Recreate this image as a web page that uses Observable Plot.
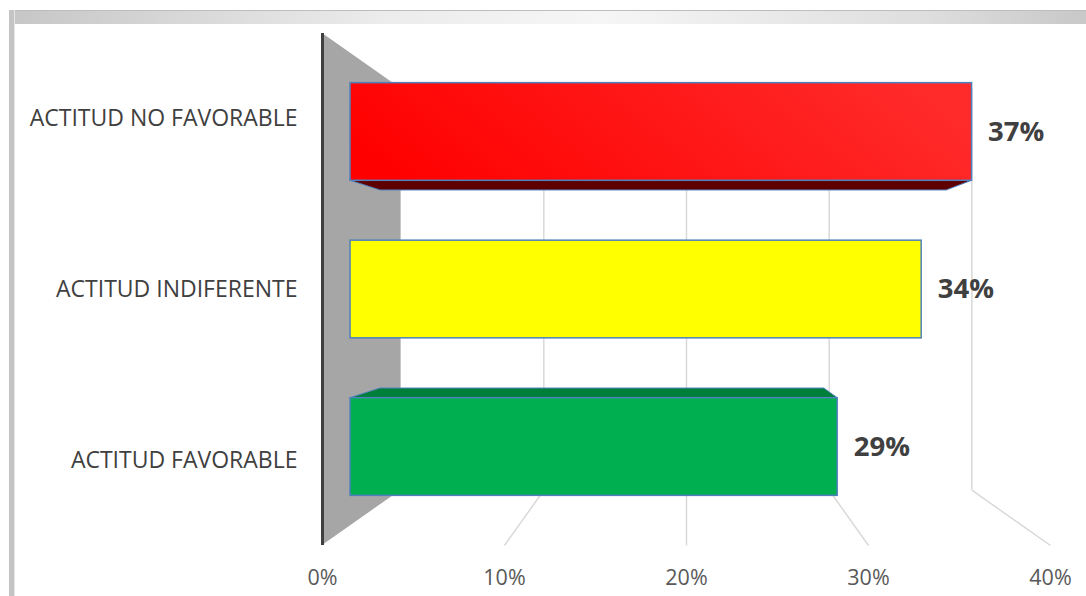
<!DOCTYPE html>
<html>
<head>
<meta charset="utf-8">
<script src="https://cdn.jsdelivr.net/npm/d3@7"></script>
<script src="https://cdn.jsdelivr.net/npm/@observablehq/plot@0.6"></script>
<style>
  html, body { margin: 0; padding: 0; background: #fff; width: 1086px; height: 596px; overflow: hidden; }
  #frameTop { position: absolute; left: 9px; top: 10px; width: 1077px; height: 14px;
    background: linear-gradient(to right, #c6c6c6 0%, #ececec 35%, #f6f6f6 55%, #dedede 85%, #c8c8c8 100%);
    border-top: 1px solid #bdbdbd; box-sizing: border-box; }
  #frameLeft { position: absolute; left: 9px; top: 10px; width: 6px; height: 586px; background: #c4c4c4; border-right: 1px solid #e6e6e6; box-sizing: border-box; }
  #chart { position: absolute; left: 0; top: 0; }
</style>
</head>
<body>
<div id="frameTop"></div>
<div id="frameLeft"></div>
<div id="chart"></div>
<script>
// ---- data ----
const categories = ["ACTITUD FAVORABLE", "ACTITUD INDIFERENTE", "ACTITUD NO FAVORABLE"];
const values = [0.29, 0.34, 0.37];
const valueLabels = ["29%", "34%", "37%"];
const frontFills = ["#00b050", "#ffff00", "url(#redGrad)"];
const sideFills = ["#007f3b", "#b5b500", "#5e0000"];
const ticks = [0, 0.1, 0.2, 0.3, 0.4];
const tickLabels = ["0%", "10%", "20%", "30%", "40%"];

// ---- 3D perspective helpers (depth factors) ----
const F_FRONT = 1, F_BACK = 0.784, BAR_FRONT = 0.923, BAR_BACK = 0.841;
const CX = 0.2, CY = 1.5, V0 = 0, V1 = 3;
const px = (p, f) => CX + (p - CX) * f;
const pv = (v, f) => CY + (v - CY) * f;
const BAR_LO = 0.19, BAR_HI = 0.81;

const bars = categories.map((c, i) => ({i, c, v: values[i], fill: frontFills[i], side: sideFills[i]}));

// visible horizontal faces (top face when below eye level, bottom face when above)
const faces = [];
bars.forEach(b => {
  let vEdge = null;
  if (b.i + BAR_HI < CY) vEdge = b.i + BAR_HI;
  else if (b.i + BAR_LO > CY) vEdge = b.i + BAR_LO;
  if (vEdge === null) return;
  faces.push({i: b.i, fill: b.side, y: pv(vEdge, BAR_FRONT), x1: px(0, BAR_FRONT), x2: px(b.v, BAR_FRONT)});
  faces.push({i: b.i, fill: b.side, y: pv(vEdge, BAR_BACK), x1: px(0, BAR_BACK), x2: px(b.v, BAR_BACK)});
});

const wall = [
  {x: px(0, F_FRONT), y1: pv(V0, F_FRONT), y2: pv(V1, F_FRONT)},
  {x: px(0, F_BACK), y1: pv(V0, F_BACK), y2: pv(V1, F_BACK)}
];

const defs = () => {
  const d = d3.create("svg:defs");
  const g = d.append("linearGradient").attr("id", "redGrad").attr("x1", "0").attr("y1", "0.6").attr("x2", "1").attr("y2", "0.4");
  g.append("stop").attr("offset", "0%").attr("stop-color", "#ff0000");
  g.append("stop").attr("offset", "100%").attr("stop-color", "#ff2b2b");
  return d.node();
};

const font = "'Open Sans', sans-serif";

const chart = Plot.plot({
  width: 1086,
  height: 596,
  margin: 0,
  style: {fontFamily: font, background: "transparent", overflow: "visible"},
  x: {domain: [0, 0.4], range: [322, 1050], axis: null},
  y: {domain: [0, 3], range: [545, 33], axis: null},
  color: {type: "identity"},
  marks: [
    defs,
    // side wall
    Plot.areaY(wall, {x: "x", y1: "y1", y2: "y2", fill: "#a6a6a6", curve: "linear"}),
    // back-wall gridlines
    Plot.ruleX(ticks.slice(1), {x: d => px(d, F_BACK), y1: () => pv(V0, F_BACK), y2: () => pv(V1, F_BACK), stroke: "#d9d9d9", strokeWidth: 1.5}),
    // floor lines
    Plot.link(ticks.slice(1), {x1: d => px(d, F_BACK), y1: () => pv(V0, F_BACK), x2: d => px(d, F_FRONT), y2: () => pv(V0, F_FRONT), stroke: "#d9d9d9", strokeWidth: 1.5}),
    // bar top/bottom faces
    Plot.areaX(faces, {y: "y", x1: "x1", x2: "x2", z: "i", fill: "fill", stroke: "#4f81bd", strokeWidth: 1, curve: "linear"}),
    // bar front faces
    Plot.rect(bars, {
      x1: () => px(0, BAR_FRONT), x2: d => px(d.v, BAR_FRONT),
      y1: d => pv(d.i + BAR_LO, BAR_FRONT), y2: d => pv(d.i + BAR_HI, BAR_FRONT),
      fill: "fill", stroke: "#4f81bd", strokeWidth: 1.5
    }),
    // wall front edge
    Plot.ruleX([0], {x: d => px(d, F_FRONT), y1: () => pv(V0, F_FRONT), y2: () => pv(V1, F_FRONT), stroke: "#404040", strokeWidth: 3}),
    // category labels
    Plot.text(categories, {x: () => 0, y: (d, i) => pv(i + 0.5, F_FRONT), text: d => d, dx: -25, textAnchor: "end", fontSize: 23, fill: "#404040"}),
    // value labels
    Plot.text(bars, {x: d => px(d.v, BAR_FRONT), y: d => pv(d.i + 0.5, BAR_FRONT), text: d => valueLabels[d.i], dx: 16, textAnchor: "start", fontSize: 27.5, fontWeight: "bold", fill: "#404040"}),
    // tick labels
    Plot.text(ticks, {x: d => px(d, F_FRONT), y: () => pv(V0, F_FRONT), text: (d, i) => tickLabels[i], dy: 33, fontSize: 21.5, fill: "#595959"})
  ]
});
document.getElementById("chart").appendChild(chart);
</script>
</body>
</html>
